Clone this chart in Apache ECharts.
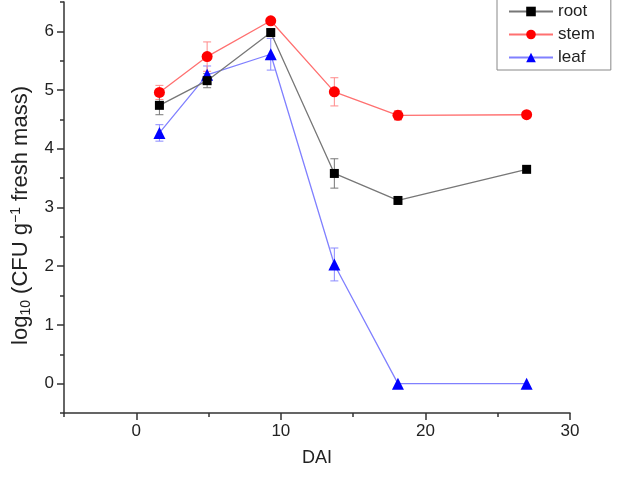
<!DOCTYPE html>
<html>
<head>
<meta charset="utf-8">
<script src="https://cdn.jsdelivr.net/npm/echarts@6/dist/echarts.min.js"></script>
<style>
  html, body { margin: 0; padding: 0; background: #fff; }
  #chart { width: 634px; height: 478px; }
</style>
</head>
<body>
<div id="chart"></div>
<script>
const days = [1.6, 4.9, 9.3, 13.7, 18.1, 27.0];
// Series values (log10 CFU g-1 fresh mass)
const rootValues = [4.74, 5.16, 5.98, 3.58, 3.12, 3.65];
const rootErrors = [0.16, 0.12, 0.05, 0.25, 0.05, 0.05];
const stemValues = [4.96, 5.57, 6.18, 4.97, 4.57, 4.58];
const stemErrors = [0.12, 0.25, 0.05, 0.24, 0.08, 0.05];
const leafValues = [4.27, 5.26, 5.61, 2.03, 0, 0];
const leafErrors = [0.14, 0.15, 0.27, 0.28, 0, 0];
// Tick values
const xTicks = [0, 10, 20, 30];
const xMinorTicks = [-5, 5, 15, 25];
const yTicks = [0, 1, 2, 3, 4, 5, 6];
const yMinorTicks = [-0.5, 0.5, 1.5, 2.5, 3.5, 4.5, 5.5, 6.5];

const FONT = 'Liberation Sans, Arial, sans-serif';
const AXIS_COLOR = '#333';
const TEXT_COLOR = '#222';

function pairs(xs, ys) { return xs.map((x, i) => [x, ys[i]]); }
function errData(xs, ys, es) { return xs.map((x, i) => [x, ys[i] - es[i], ys[i] + es[i]]); }

function errorBarSeries(name, data, color, z) {
  return {
    name: name,
    type: 'custom',
    xAxisIndex: 0,
    yAxisIndex: 0,
    z: z,
    silent: true,
    encode: { x: 0, y: [1, 2] },
    data: data,
    renderItem: function (params, api) {
      const x = api.value(0), lo = api.value(1), hi = api.value(2);
      if (hi - lo <= 0) return null;
      const p1 = api.coord([x, hi]);
      const p2 = api.coord([x, lo]);
      const w = 4;
      const style = { stroke: color, lineWidth: 1 };
      return {
        type: 'group',
        children: [
          { type: 'line', shape: { x1: p1[0], y1: p1[1], x2: p2[0], y2: p2[1] }, style: style },
          { type: 'line', shape: { x1: p1[0] - w, y1: p1[1], x2: p1[0] + w, y2: p1[1] }, style: style },
          { type: 'line', shape: { x1: p2[0] - w, y1: p2[1], x2: p2[0] + w, y2: p2[1] }, style: style }
        ]
      };
    }
  };
}

const chart = echarts.init(document.getElementById('chart'), null, { renderer: 'canvas' });

const option = {
  backgroundColor: '#fff',
  animation: false,
  textStyle: { fontFamily: FONT },
  grid: { left: 64, right: 64, top: 2, bottom: 65, containLabel: false },
  legend: {
    data: ['root', 'stem', 'leaf'],
    orient: 'vertical',
    left: 497,
    top: -1,
    padding: [4, 16, 4, 11],
    itemWidth: 44,
    itemHeight: 12,
    itemGap: 6,
    borderColor: '#888',
    borderWidth: 1,
    textStyle: { fontSize: 17, color: TEXT_COLOR, fontFamily: FONT }
  },
  xAxis: [
    {
      type: 'value', min: -5, max: 30, position: 'bottom',
      name: 'DAI', nameLocation: 'middle', nameGap: 36,
      nameTextStyle: { fontSize: 18, color: TEXT_COLOR, fontFamily: FONT },
      axisLine: { onZero: false, lineStyle: { color: AXIS_COLOR, width: 1.5 } },
      axisTick: { customValues: xTicks, length: 7, lineStyle: { color: AXIS_COLOR, width: 1.5 } },
      axisLabel: { customValues: xTicks, fontSize: 17, color: TEXT_COLOR, margin: 10, fontFamily: FONT },
      splitLine: { show: false }
    },
    {
      type: 'value', min: -5, max: 30, position: 'bottom',
      axisLine: { show: false, onZero: false },
      axisTick: { customValues: xMinorTicks, length: 4, lineStyle: { color: AXIS_COLOR, width: 1.5 } },
      axisLabel: { show: false },
      splitLine: { show: false }
    }
  ],
  yAxis: [
    {
      type: 'value', min: -0.5, max: 6.5, position: 'left',
      name: '{a|log}{sub|10}{a| (CFU g}{sup|−1}{a| fresh mass)}',
      nameLocation: 'middle', nameGap: 31,
      nameTextStyle: {
        fontSize: 22, color: TEXT_COLOR, fontFamily: FONT,
        padding: [0, 16, 0, 0],
        rich: {
          a: { fontSize: 22, color: TEXT_COLOR, fontFamily: FONT, lineHeight: 24, verticalAlign: 'middle' },
          sub: { fontSize: 14, color: TEXT_COLOR, fontFamily: FONT, lineHeight: 24, verticalAlign: 'bottom' },
          sup: { fontSize: 14, color: TEXT_COLOR, fontFamily: FONT, lineHeight: 24, verticalAlign: 'top' }
        }
      },
      axisLine: { onZero: false, lineStyle: { color: AXIS_COLOR, width: 1.5 } },
      axisTick: { customValues: yTicks, length: 7, lineStyle: { color: AXIS_COLOR, width: 1.5 } },
      axisLabel: { customValues: yTicks, fontSize: 17, color: TEXT_COLOR, margin: 10, fontFamily: FONT },
      splitLine: { show: false }
    },
    {
      type: 'value', min: -0.5, max: 6.5, position: 'left',
      axisLine: { show: false, onZero: false },
      axisTick: { customValues: yMinorTicks, length: 4, lineStyle: { color: AXIS_COLOR, width: 1.5 } },
      axisLabel: { show: false },
      splitLine: { show: false }
    }
  ],
  series: [
    errorBarSeries('leaf-err', errData(days, leafValues, leafErrors), '#8a8aff', 2),
    errorBarSeries('stem-err', errData(days, stemValues, stemErrors), '#ff8a8a', 2),
    errorBarSeries('root-err', errData(days, rootValues, rootErrors), '#777777', 2),
    {
      name: 'leaf', type: 'line', xAxisIndex: 0, yAxisIndex: 0, z: 3,
      data: pairs(days, leafValues),
      symbol: 'triangle', symbolSize: 12, showAllSymbol: true,
      itemStyle: { color: '#0000ff' },
      lineStyle: { color: '#8080ff', width: 1.3 }
    },
    {
      name: 'stem', type: 'line', xAxisIndex: 0, yAxisIndex: 0, z: 4,
      data: pairs(days, stemValues),
      symbol: 'circle', symbolSize: 11, showAllSymbol: true,
      itemStyle: { color: '#ff0000' },
      lineStyle: { color: '#ff7070', width: 1.3 }
    },
    {
      name: 'root', type: 'line', xAxisIndex: 0, yAxisIndex: 0, z: 5,
      data: pairs(days, rootValues),
      symbol: 'rect', symbolSize: 9, showAllSymbol: true,
      itemStyle: { color: '#000000' },
      lineStyle: { color: '#777777', width: 1.3 }
    }
  ]
};

chart.setOption(option);
</script>
</body>
</html>
